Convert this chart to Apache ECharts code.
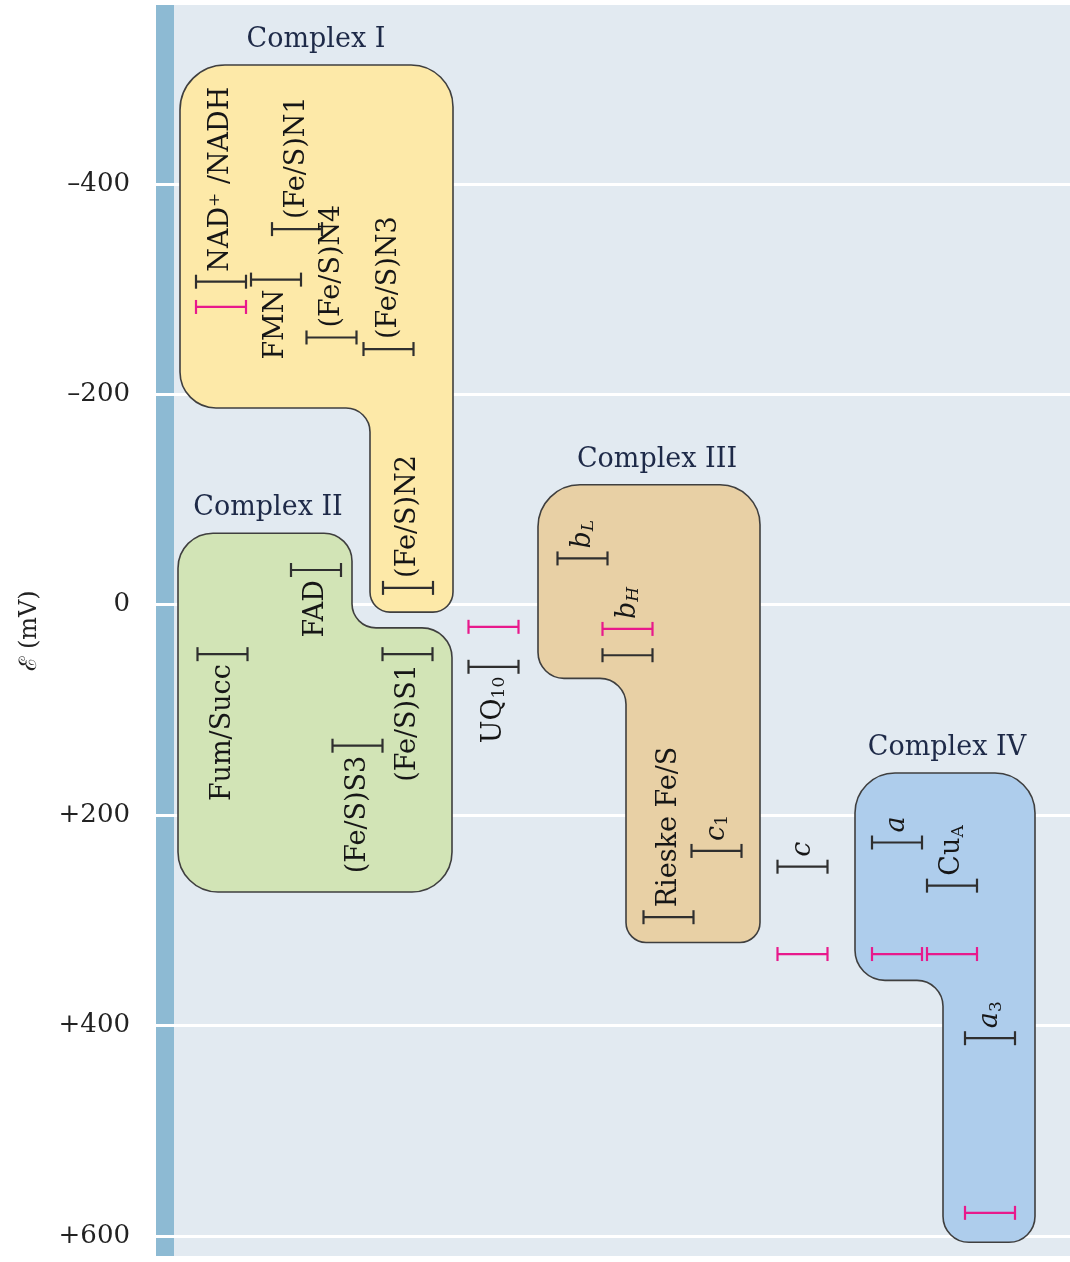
<!DOCTYPE html>
<html>
<head>
<meta charset="utf-8">
<title>Respiratory chain potentials</title>
<script src="https://cdn.jsdelivr.net/npm/echarts@6/dist/echarts.min.js"></script>
<style>
  html, body { margin: 0; padding: 0; background: #fff; }
  #main { width: 1070px; height: 1262px; }
</style>
</head>
<body>
<div id="main"></div>
<script>
// reduction potentials (mV), x = horizontal column position
var yTicks = [-400, -200, 0, 200, 400, 600];

var barLabels = ['NAD⁺ /NADH', 'FMN', '(Fe/S)N1', '(Fe/S)N4', '(Fe/S)N3', '(Fe/S)N2',
    'FAD', 'Fum/Succ', '(Fe/S)S1', '(Fe/S)S3', 'UQ{s|10}', '{i|b}{si|L}', '{i|b}{si|H}',
    'Rieske Fe/S', '{i|c}{s|1}', '{i|c}', '{i|a}', 'Cu{s|A}', '{i|a}{s|3}'];
var barX = [65, 120, 141, 175.5, 232.5, 252, 160, 66.5, 251.5, 201.5, 337.5, 426.5, 471.5,
    512.5, 560.5, 646.5, 741, 796, 834];
var barMv = [-307, -309, -357, -254, -243, -16, -33, 47, 47, 134, 59, -44, 48,
    297, 234, 249, 226, 267, 412];
var labelSide = ['up', 'down', 'up', 'up', 'up', 'up', 'down', 'down', 'down', 'down', 'down', 'up', 'up',
    'up', 'up', 'up', 'up', 'up', 'up'];

// pink bars
var pinkX = [65, 337.5, 471.5, 646.5, 741, 796, 834];
var pinkMv = [-283, 21, 23, 332, 332, 332, 578];

// complexes: outline corners [x, mV]
var complexNames = ['Complex I', 'Complex II', 'Complex III', 'Complex IV'];
var complexTitleX = [160, 112, 501, 791];
var complex1 = [[24, -513], [297, -513], [297, 7], [214, 7], [214, -187], [24, -187]];
var complex2 = [[22, -68], [196, -68], [196, 22], [296, 22], [296, 273], [22, 273]];
var complex3 = [[382, -114], [604, -114], [604, 321], [470, 321], [470, 70], [382, 70]];
var complex4 = [[699, 160], [879, 160], [879, 606], [787, 606], [787, 357], [699, 357]];

var complexShapes = [complex1, complex2, complex3, complex4];
var complexRadii = [[45, 42, 20, 20, 24, 36], [35, 28, 24, 30, 40, 40], [42, 40, 20, 20, 26, 26], [40, 40, 26, 26, 26, 30]];
var complexFill = ['#fde9a8', '#d2e4b6', '#e8d0a5', '#aecdec'];

var FONT = '"DejaVu Serif", "Liberation Serif", serif';
var HALF = 25;   // half length of an error bar, x units
var CAP = 7;     // cap half height, px
var GAP = 10;    // label distance from its bar, px
var LABEL_SIZE = 27;

var chart = echarts.init(document.getElementById('main'));

function roundedPath(pts, radii) {
    var n = pts.length, d = '';
    for (var i = 0; i < n; i++) {
        var p0 = pts[(i - 1 + n) % n], p1 = pts[i], p2 = pts[(i + 1) % n];
        var r = radii[i];
        var l1 = Math.hypot(p1[0] - p0[0], p1[1] - p0[1]);
        var l2 = Math.hypot(p2[0] - p1[0], p2[1] - p1[1]);
        var u1 = [(p1[0] - p0[0]) / l1, (p1[1] - p0[1]) / l1];
        var u2 = [(p2[0] - p1[0]) / l2, (p2[1] - p1[1]) / l2];
        var a = [p1[0] - u1[0] * r, p1[1] - u1[1] * r];
        var b = [p1[0] + u2[0] * r, p1[1] + u2[1] * r];
        var k = 0.5523 * r;
        var c1 = [a[0] + u1[0] * k, a[1] + u1[1] * k];
        var c2 = [b[0] - u2[0] * k, b[1] - u2[1] * k];
        d += (i === 0 ? 'M' : 'L') + a[0] + ',' + a[1] +
            'C' + c1[0] + ',' + c1[1] + ' ' + c2[0] + ',' + c2[1] + ' ' + b[0] + ',' + b[1];
    }
    return d + 'Z';
}

function errorBar(api, x, v, color) {
    var p1 = api.coord([x - HALF, v]), p2 = api.coord([x + HALF, v]);
    var st = { stroke: color, lineWidth: 2.2 };
    return [
        { type: 'line', shape: { x1: p1[0], y1: p1[1], x2: p2[0], y2: p2[1] }, style: st },
        { type: 'line', shape: { x1: p1[0], y1: p1[1] - CAP, x2: p1[0], y2: p1[1] + CAP }, style: st },
        { type: 'line', shape: { x1: p2[0], y1: p2[1] - CAP, x2: p2[0], y2: p2[1] + CAP }, style: st }
    ];
}

var richText = {
    i: { fontStyle: 'italic', fontSize: LABEL_SIZE, fontFamily: FONT, fill: '#161616', lineHeight: 30 },
    s: { fontSize: 17, fontFamily: FONT, fill: '#161616', lineHeight: 14, verticalAlign: 'bottom' },
    si: { fontSize: 17, fontStyle: 'italic', fontFamily: FONT, fill: '#161616', lineHeight: 14, verticalAlign: 'bottom' }
};

var blackData = barX.map(function (x, i) { return [x, barMv[i]]; });
var pinkData = pinkX.map(function (x, i) { return [x, pinkMv[i]]; });

var option = {
    animation: false,
    grid: {
        left: 156, right: 0, top: 5, bottom: 6,
        show: true, backgroundColor: '#e2eaf1', borderWidth: 0
    },
    xAxis: { type: 'value', min: 0, max: 914, show: false },
    yAxis: {
        type: 'value', inverse: true, min: -570, max: 619,
        name: 'ℰ (mV)', nameLocation: 'middle', nameGap: 114,
        nameTextStyle: { fontFamily: FONT, fontSize: 24, color: '#222' },
        axisLine: { show: false },
        axisTick: { show: false },
        splitLine: { show: false },
        axisLabel: {
            customValues: yTicks,
            margin: 26,
            fontFamily: FONT, fontSize: 26, color: '#222',
            formatter: function (v) { return v < 0 ? '–' + Math.abs(v) : (v > 0 ? '+' + v : '0'); }
        }
    },
    series: [{
        // blue strip on the left + white grid lines
        type: 'custom', z: 2, silent: true,
        data: [[0, 0]],
        renderItem: function (params, api) {
            var cs = params.coordSys;
            return { type: 'rect', shape: { x: cs.x, y: cs.y, width: api.size([18, 0])[0], height: cs.height },
                style: { fill: '#8dbad3' } };
        },
        markLine: {
            silent: true, z: 3, symbol: ['none', 'none'],
            label: { show: false },
            lineStyle: { color: '#ffffff', width: 3, type: 'solid' },
            data: yTicks.map(function (t) { return { yAxis: t }; })
        }
    }, {
        // complexes
        type: 'custom', z: 10, silent: true,
        data: complexNames.map(function (n, i) { return [complexTitleX[i], complexShapes[i][0][1]]; }),
        renderItem: function (params, api) {
            var i = params.dataIndex;
            var pts = complexShapes[i].map(function (p) { return api.coord(p); });
            var top = api.coord([complexTitleX[i], complexShapes[i][0][1]]);
            return {
                type: 'group',
                children: [{
                    type: 'path', shape: { pathData: roundedPath(pts, complexRadii[i]) },
                    style: { fill: complexFill[i], stroke: '#3f3f3f', lineWidth: 1.6 }
                }, {
                    type: 'text', x: top[0], y: top[1] - 25,
                    style: { text: complexNames[i], fontFamily: FONT, fontSize: 27, fill: '#1e2a48',
                        align: 'center', verticalAlign: 'middle' }
                }]
            };
        }
    }, {
        // pink bars
        type: 'custom', z: 12, silent: true,
        data: pinkData,
        renderItem: function (params, api) {
            return { type: 'group', children: errorBar(api, api.value(0), api.value(1), '#e8198c') };
        }
    }, {
        // black bars with labels
        type: 'custom', z: 12, silent: true,
        data: blackData,
        renderItem: function (params, api) {
            var i = params.dataIndex;
            var x = api.value(0), v = api.value(1);
            var kids = errorBar(api, x, v, '#2f2f2f');
            // label sits beyond the outermost bar in that column
            var anchor = v;
            pinkX.forEach(function (px, j) {
                if (Math.abs(px - x) < 1) {
                    anchor = labelSide[i] === 'up' ? Math.min(anchor, pinkMv[j]) : Math.max(anchor, pinkMv[j]);
                }
            });
            var p = api.coord([x, anchor]);
            var up = labelSide[i] === 'up';
            kids.push({
                type: 'text', x: p[0], y: up ? p[1] - GAP : p[1] + GAP, rotation: Math.PI / 2,
                style: {
                    text: barLabels[i], rich: richText,
                    fontFamily: FONT, fontSize: LABEL_SIZE, fill: '#161616', lineHeight: 30,
                    align: up ? 'left' : 'right', verticalAlign: 'middle'
                }
            });
            return { type: 'group', children: kids };
        }
    }]
};

chart.setOption(option);
</script>
</body>
</html>
